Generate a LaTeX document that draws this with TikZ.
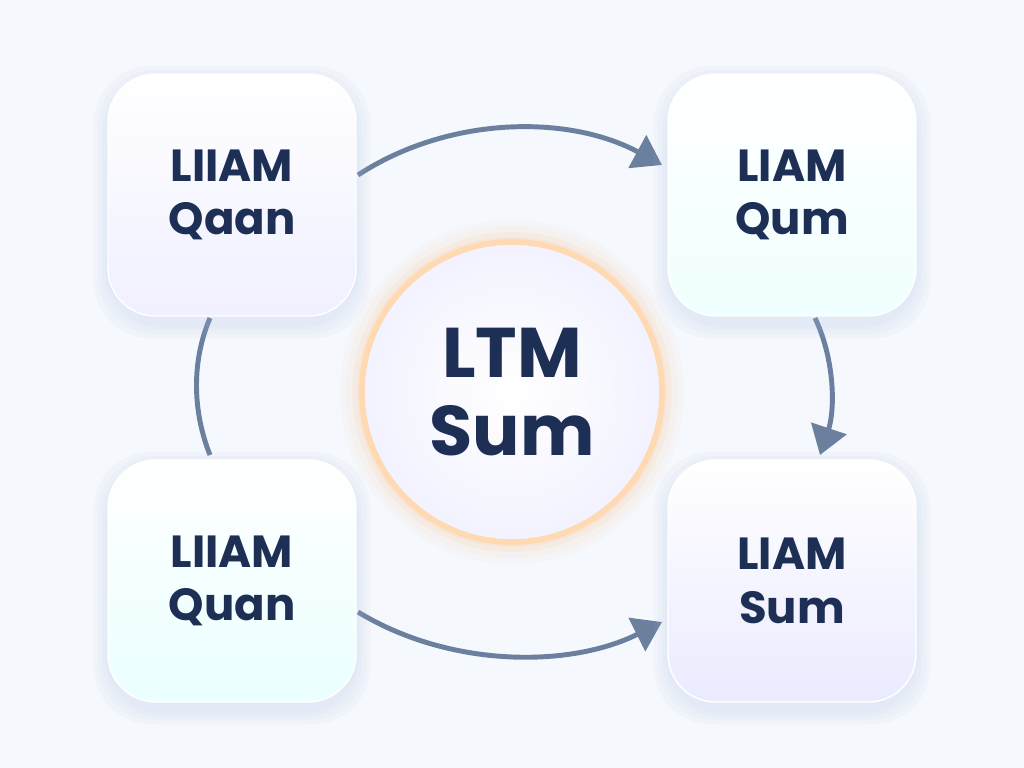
\documentclass[tikz,border=0pt]{standalone}
\usepackage{fontspec}
\setmainfont{Poppins}
\usetikzlibrary{arrows.meta}
\definecolor{navy}{HTML}{1E2F55}
\definecolor{arc}{HTML}{6B7F9E}
\definecolor{bg}{HTML}{F5F8FC}
\definecolor{shad}{HTML}{A9BEE6}
\tikzset{
  card/.style={rounded corners=34pt, minimum width=6.2cm, minimum height=6.05cm, draw=white, line width=1pt,
    top color=white, bottom color=#1,
    font=\fontsize{32}{38}\selectfont\bfseries, text=navy, align=center},
  link/.style={draw=arc, line width=3.5pt},
  tip/.style={-{Triangle[length=20pt,width=26pt]}}
}
\newcommand{\softshadow}[2]{%
  \foreach \g in {14,10,6,3}{
    \fill[shad, opacity=0.06, rounded corners=40pt]
      ($(#1,#2)+(-124-\g,-121-\g+6)$) rectangle ($(#1,#2)+(124+\g,121+\g+8)$);
  }}
\usetikzlibrary{calc}
\begin{document}
\begin{tikzpicture}[x=0.025cm,y=-0.025cm]
\fill[bg] (0,0) rectangle (1024,768);
\useasboundingbox (0,0) rectangle (1024,768);
% links
\draw[link,tip] (358,175) .. controls (450,115) and (570,115) .. (662,165) coordinate (e1);
\draw[link,tip] (815,318) .. controls (835,360) and (835,410) .. (820,455) coordinate (e2);
\draw[link,tip] (358,612) .. controls (450,668) and (570,668) .. (662,622) coordinate (e3);
\draw[link] (210,318) .. controls (192,360) and (192,410) .. (210,455) coordinate (e4);
% shadows
\softshadow{232}{195}
\softshadow{792}{195}
\softshadow{232}{581}
\softshadow{792}{581}
% cards
\node[card=blue!6] (tl) at (232,195) {LIIAM\\Qaan};
\node[card=cyan!6] (tr) at (792,195) {LIAM\\Qum};
\node[card=cyan!8] (bl) at (232,581) {LIIAM\\Quan};
\node[card=blue!8] (br) at (792,581) {LIAM\\Sum};
% center glow
\foreach \r/\o in {172/0.04,166/0.07,160/0.1,155/0.15}{
  \fill[orange!50, opacity=\o] (512,392) circle (\r);
}
\node[circle, minimum size=7.5cm, draw=orange!30, line width=4pt, inner color=white, outer color=blue!5,
  font=\fontsize{50}{56}\selectfont\bfseries, text=navy, align=center] (c) at (512,392) {LTM\\Sum};
\end{tikzpicture}
\end{document}
